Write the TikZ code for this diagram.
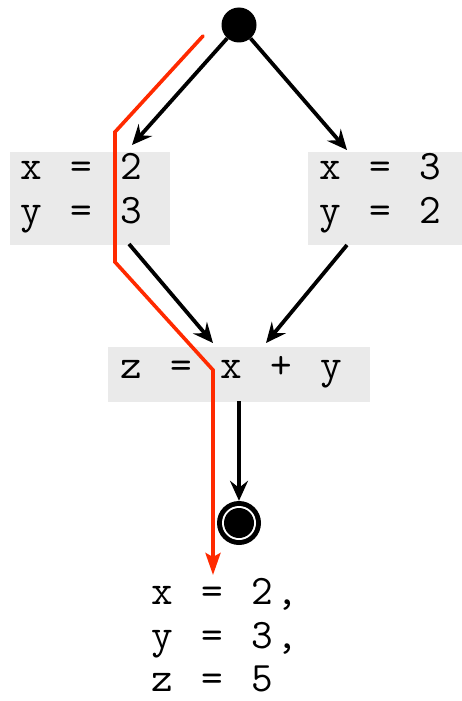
\documentclass[tikz,border=0pt]{standalone}
\usepackage{fontspec}
\usetikzlibrary{arrows.meta}
\definecolor{boxgray}{RGB}{234,234,234}
\definecolor{pathred}{RGB}{255,42,0}
\newcommand\ch[1]{\makebox[25pt][c]{#1}}
\begin{document}
\begin{tikzpicture}[x=1pt,y=-1pt,
  code/.style={inner sep=0pt,anchor=base west,font=\ttfamily\fontsize{42}{44}\selectfont},
  box/.style={fill=boxgray,inner sep=0pt,draw=none},
  arr/.style={line width=3.8pt,-{Stealth[length=20pt,width=18pt,inset=7pt]}},
  redpath/.style={draw=pathred,line width=3.6pt,line cap=round,-{Stealth[length=22pt,width=15pt,inset=4pt]}}]
\useasboundingbox (0,0) rectangle (462,701);
% boxes
\node[box,minimum width=160pt,minimum height=93pt] (L) at (90,198.5) {};
\node[box,minimum width=154pt,minimum height=93pt] (R) at (385,198.5) {};
\node[box,minimum width=262pt,minimum height=55pt] (M) at (239,374.5) {};
% texts
\node[code] (l1) at (19,179) {\ch{x}\ch{ }\ch{=}\ch{ }\ch{2}};
\node[code] (l2) at (19,223) {\ch{y}\ch{ }\ch{=}\ch{ }\ch{3}};
\node[code] (r1) at (318,179) {\ch{x}\ch{ }\ch{=}\ch{ }\ch{3}};
\node[code] (r2) at (318,223) {\ch{y}\ch{ }\ch{=}\ch{ }\ch{2}};
\node[code] (m1) at (119,378) {\ch{z}\ch{ }\ch{=}\ch{ }\ch{x}\ch{ }\ch{+}\ch{ }\ch{y}};
\node[code] (f1) at (150,604) {\ch{x}\ch{ }\ch{=}\ch{ }\ch{2}\ch{,}};
\node[code] (f2) at (150,648) {\ch{y}\ch{ }\ch{=}\ch{ }\ch{3}\ch{,}};
\node[code] (f3) at (150,691) {\ch{z}\ch{ }\ch{=}\ch{ }\ch{5}};
% start and end
\node[circle,fill=black,minimum size=35pt,inner sep=0pt] (s) at (239,25) {};
\node[circle,fill=black,minimum size=44pt,inner sep=0pt] (e) at (239,523) {};
\node[circle,fill=white,minimum size=34pt,inner sep=0pt] (ew) at (239,523) {};
\node[circle,fill=black,minimum size=30pt,inner sep=0pt] (ei) at (239,523) {};
% connector endpoints
\coordinate (ltip) at (132,145);
\coordinate (rtip) at (347,150);
\coordinate (lbot) at (129,244);
\coordinate (rbot) at (347,245);
\coordinate (mlt) at (213,343);
\coordinate (mrt) at (266,343);
\coordinate (mbot) at (239,401);
\draw[arr] (s) -- (ltip);
\draw[arr] (s) -- (rtip);
\draw[arr] (lbot) -- (mlt);
\draw[arr] (rbot) -- (mrt);
\draw[arr] (mbot) -- (e);
% red path
\coordinate (p0) at (203,36);
\coordinate (p1) at (115,132);
\coordinate (p2) at (115,262);
\coordinate (p3) at (213,370);
\coordinate (p4) at (213,575);
\draw[redpath] (p0) -- (p1) -- (p2) -- (p3) -- (p4);
\end{tikzpicture}
\end{document}
